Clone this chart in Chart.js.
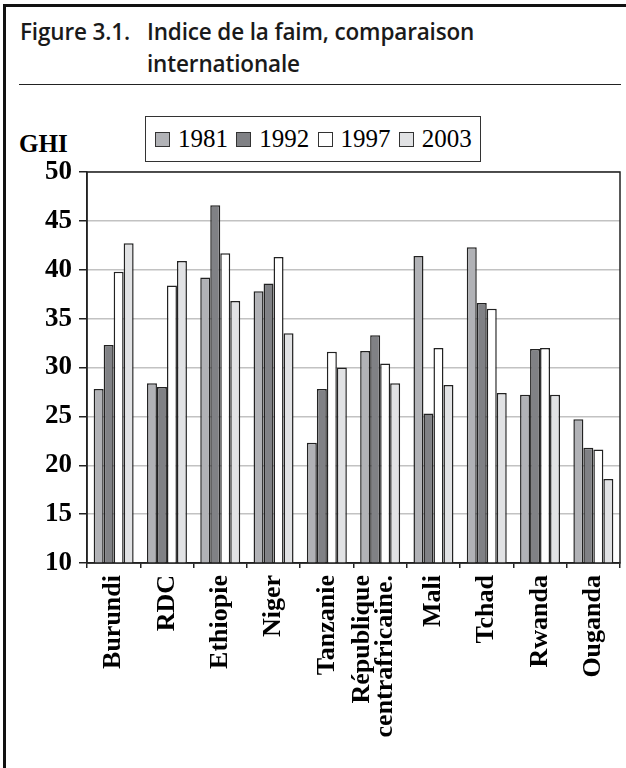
<!DOCTYPE html>
<html>
<head>
<meta charset="utf-8">
<script src="https://cdn.jsdelivr.net/npm/chart.js@4/dist/chart.umd.min.js"></script>
<style>
  html, body { margin: 0; padding: 0; background: #fff; }
  body { width: 626px; height: 768px; position: relative; overflow: hidden; }
  #frame { position: absolute; left: 3px; top: 4px; width: 640px; height: 800px;
    border-left: 3px solid #111; border-top: 3px solid #111; }
  #title { position: absolute; left: 20px; top: 16px; font-family: "Open Sans", sans-serif;
    font-weight: 600; font-size: 22.5px; line-height: 32px; color: #1a1a1a; letter-spacing: -0.15px; }
  #title .num { display: inline-block; width: 127px; }
  #title .l2 { padding-left: 127px; }
  #rule { position: absolute; left: 19px; top: 84px; width: 602px; height: 1px; background: #222; }
  #ghi { position: absolute; left: 19px; top: 130px; font-family: "Liberation Serif", serif;
    font-weight: bold; font-size: 25px; line-height: 28px; }
  #legend { position: absolute; left: 145px; top: 116px; width: 336px; height: 46px;
    border: 1px solid #333; display: flex; align-items: center; padding-left: 9px; box-sizing: border-box; }
  .item { display: flex; align-items: center; width: 82px; font-family: "Liberation Serif", serif;
    font-size: 25px; }
  .sw { width: 13px; height: 13px; border: 1px solid #333; margin-right: 8px; }
  canvas { position: absolute; left: 0; top: 0; }
</style>
</head>
<body>
<div id="frame"></div>
<div id="title"><span class="num">Figure 3.1.</span>Indice de la faim, comparaison<br><span class="l2">internationale</span></div>
<div id="rule"></div>
<div id="ghi">GHI</div>
<div id="legend"></div>
<canvas id="chart" width="626" height="768"></canvas>
<script>
const countries = ['Burundi', 'RDC', 'Ethiopie', 'Niger', 'Tanzanie', ['République', 'centrafricaine.'], 'Mali', 'Tchad', 'Rwanda', 'Ouganda'];
const years = ['1981', '1992', '1997', '2003'];
const ghi1981 = [27.8, 28.4, 39.2, 37.8, 22.3, 31.7, 41.4, 42.3, 27.2, 24.7];
const ghi1992 = [32.3, 28.0, 46.6, 38.6, 27.8, 33.3, 25.3, 36.6, 31.9, 21.8];
const ghi1997 = [39.8, 38.4, 41.7, 41.3, 31.6, 30.4, 32.0, 36.0, 32.0, 21.6];
const ghi2003 = [42.7, 40.9, 36.8, 33.5, 30.0, 28.4, 28.2, 27.4, 27.2, 18.6];
const yMin = 10, yMax = 50, yStep = 5;

const colors = ['#b1b2b6', '#808185', '#ffffff', '#e1e2e4'];
const series = [ghi1981, ghi1992, ghi1997, ghi2003];

// legend (html, boxed like the original)
const legend = document.getElementById('legend');
years.forEach((y, i) => {
  legend.innerHTML += `<div class="item"><div class="sw" style="background:${colors[i]}"></div>${y}</div>`;
});

// plot frame on all four sides
const boxPlugin = {
  id: 'box',
  afterDatasetsDraw(chart) {
    const a = chart.chartArea, ctx = chart.ctx;
    ctx.save();
    ctx.strokeStyle = '#222';
    ctx.lineWidth = 1.5;
    ctx.strokeRect(a.left, a.top, a.right - a.left, a.bottom - a.top);
    ctx.restore();
  }
};

// two-line rotated label: centre both lines on the tick instead of starting at it
const centreMultiLine = {
  id: 'centreMultiLine',
  beforeDraw(chart) {
    chart.scales.x.getLabelItems().forEach(it => {
      if (Array.isArray(it.label) && !it._moved) {
        it.textOffset -= 18;
        it._moved = true;
      }
    });
  }
};

const serif = '"Liberation Serif", "Times New Roman", serif';

new Chart(document.getElementById('chart'), {
  type: 'bar',
  data: {
    labels: countries,
    datasets: years.map((y, i) => ({
      label: y,
      data: series[i],
      backgroundColor: colors[i],
      borderColor: '#222',
      borderWidth: 1.5,
      categoryPercentage: 0.75,
      barPercentage: 1.0,
    }))
  },
  options: {
    responsive: false,
    animation: false,
    devicePixelRatio: 1,
    layout: { padding: { top: 172, right: 6, left: 0, bottom: 0 } },
    plugins: { legend: { display: false }, tooltip: { enabled: false } },
    scales: {
      x: {
        grid: { drawOnChartArea: false, drawTicks: true, tickLength: 5, tickColor: '#222', lineWidth: 1.5 },
        border: { color: '#222', width: 1.5 },
        ticks: {
          color: '#000', minRotation: 90, maxRotation: 90, padding: 7, autoSkip: false,
          font: { family: serif, weight: 'bold', size: 26, lineHeight: 0.885 }
        },
        afterFit(s) { s.height = 205; }
      },
      y: {
        min: yMin, max: yMax,
        grid: { color: '#c2c2c2', lineWidth: 1.5, tickColor: '#222', tickLength: 8 },
        border: { color: '#222', width: 1.5 },
        ticks: {
          stepSize: yStep, color: '#000', padding: 7,
          font: { family: serif, weight: 'bold', size: 27 }
        },
        afterFit(s) { s.width = 87; }
      }
    }
  },
  plugins: [boxPlugin, centreMultiLine]
});
</script>
</body>
</html>
